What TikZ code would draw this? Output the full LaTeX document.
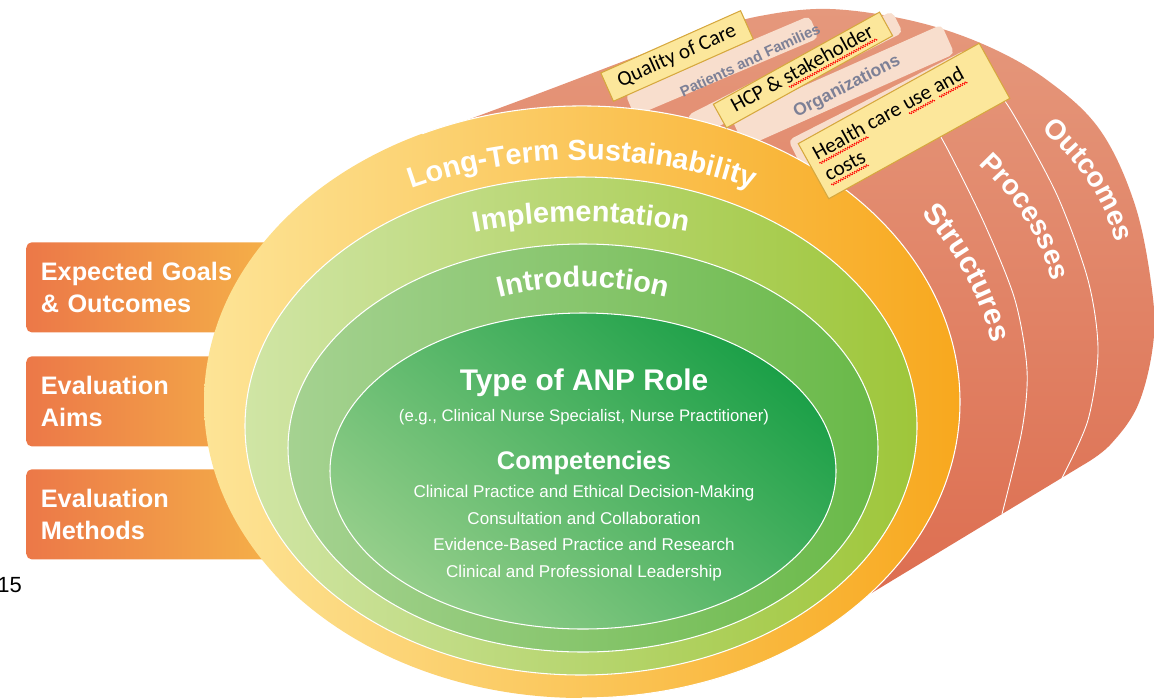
\documentclass[tikz,border=0pt]{standalone}
\usepackage{fontspec}
\setmainfont{Liberation Sans}
\newfontfamily\notefont{Carlito}
\usetikzlibrary{positioning}
\usetikzlibrary{calc}
\usetikzlibrary{decorations.text}

\definecolor{boxleft}{RGB}{236,120,72}
\definecolor{boxright}{RGB}{245,178,72}
\definecolor{salmontop}{RGB}{229,152,124}
\definecolor{salmonbot}{RGB}{221,110,80}
\definecolor{panelfill}{RGB}{248,222,205}
\definecolor{paneltext}{RGB}{125,128,150}
\definecolor{notefill}{RGB}{252,231,155}
\definecolor{noteedge}{RGB}{214,168,62}
\definecolor{sustleft}{RGB}{253,228,150}
\definecolor{sustmid}{RGB}{253,200,45}
\definecolor{sustright}{RGB}{248,168,30}
\definecolor{implleft}{RGB}{208,229,165}
\definecolor{implmid}{RGB}{170,207,85}
\definecolor{implright}{RGB}{158,198,58}
\definecolor{introleft}{RGB}{165,210,145}
\definecolor{introright}{RGB}{105,185,72}
\definecolor{roledark}{RGB}{28,160,72}
\definecolor{rolelight}{RGB}{148,206,138}

% red spell-check wave under a word
\newcommand\redwave[1]{\leavevmode\setbox0=\hbox{#1}\rlap{\color{red}\hbox to \wd0{\cleaders\hbox{\vrule width 0.75pt height -1.5pt depth 2.2pt\vrule width 0.75pt height -2.2pt depth 2.9pt}\hfill}}\box0\relax}

\begin{document}
\begin{tikzpicture}[x=0.02cm, y=-0.02cm,
    evalbox/.style={left color=boxleft, right color=boxright, rounded corners=3pt,
      minimum width=5.08cm, minimum height=1.8cm, text width=4.5cm, inner xsep=0.28cm,
      align=left, text=white, font=\fontsize{14.4}{18.5}\selectfont\bfseries},
    ring/.style={draw=white, line width=0.6pt},
    panel/.style={fill=panelfill, rounded corners=3pt, inner sep=0pt},
    celltext/.style={text=paneltext, inner sep=0pt},
    sticky/.style={fill=notefill, draw=noteedge, line width=0.6pt, inner sep=0pt,
      font=\notefont\fontsize{12}{14}\selectfont},
    divider/.style={draw=white, line width=0.5pt},
    arclabel/.style={decorate, decoration={text along path, text align=center,
      text color=white, text={#1}}}
  ]

  \useasboundingbox (0,0) rectangle (1155,697);

  % evaluation boxes on the left (behind the rings)
  \node[evalbox, anchor=north west] (goals) at (26,242) {Expected Goals\\\& Outcomes};
  \node[evalbox, anchor=north west] (aims) at (26,356) {Evaluation\\Aims};
  \node[evalbox, anchor=north west] (methods) at (26,469) {Evaluation\\Methods};

  % page number
  \node[anchor=west, inner sep=0pt, font=\fontsize{12.5}{12.5}\selectfont] (pagenum) at (-3,585) {15};

  % draw the cylinder body
  \shade[top color=salmontop, bottom color=salmonbot]
    plot[smooth, tension=0.6] coordinates {(440,130) (540,93) (640,55) (700,33) (760,16) (830,9)
      (913,21) (985,45) (1047,80) (1100,130) (1135,205) (1152,290) (1153,345) (1138,405)
      (1110,445) (1083,465)}
    -- (860,600) -- (580,420) -- cycle;

  % cells on the top of the cylinder
  \node[panel, minimum width=4.0cm, minimum height=0.48cm, rotate=23] (pfcell) at (722,66) {};
  \node[panel, minimum width=4.6cm, minimum height=0.48cm, rotate=27] (hcpcell) at (795,74) {};
  \node[panel, minimum width=4.6cm, minimum height=0.64cm, rotate=24] (orgcell) at (843,86) {};
  \node[panel, minimum width=4.0cm, minimum height=0.68cm, rotate=27] (costcell) at (885,110) {};
  \node[celltext, rotate=25, font=\fontsize{8.5}{8.5}\selectfont\bfseries] (pftext) at (750,60) {Patients and Families};
  \node[celltext, rotate=27, font=\fontsize{10}{10}\selectfont\bfseries] (orgtext) at (847,87) {Organizations};

  % draw the slab dividers
  \draw[divider] plot[smooth] coordinates {(925,110) (948,150) (985,225) (1015,300) (1027,370) (1022,430) (1002,514)};
  \draw[divider] plot[smooth] coordinates {(985,75) (1012,112) (1057,195) (1088,280) (1098,350) (1088,420) (1062,478)};

  % slab labels
  \path[arclabel={|\fontsize{17}{17}\selectfont\bfseries|Structures}]
    (918,209) .. controls (950,245) and (980,290) .. (993,349);
  \path[arclabel={|\fontsize{16}{16}\selectfont\bfseries|Processes}]
    (976,162) .. controls (1010,195) and (1040,230) .. (1053,285);
  \path[arclabel={|\fontsize{16}{16}\selectfont\bfseries|Outcomes}]
    (1040,128) .. controls (1075,160) and (1105,195) .. (1116,245);

  % draw the rings
  \shade[left color=sustleft, middle color=sustmid, right color=sustright]
    (582,402) ellipse [x radius=378, y radius=296];
  \draw[white, line width=0.6pt] ([shift={(582,402)}]-115:378 and 296)
    arc [start angle=-115, end angle=90, x radius=378, y radius=296];
  \draw[ring, left color=implleft, middle color=implmid, right color=implright]
    (581,426) ellipse [x radius=336, y radius=249];
  \draw[ring, left color=introleft, right color=introright]
    (583,448) ellipse [x radius=295, y radius=204];
  \draw[ring, top color=roledark, bottom color=rolelight, shading angle=-40]
    (583,471) ellipse [x radius=253, y radius=158];

  % ring labels
  \path[arclabel={|\fontsize{16.5}{16.5}\selectfont\bfseries|Long-Term Sustainability}]
    ([shift={(582,402)}]200:360 and 242) arc [start angle=200, end angle=340, x radius=360, y radius=242];
  \path[arclabel={|\fontsize{16.5}{16.5}\selectfont\bfseries|Implementation}]
    ([shift={(581,426)}]205:342 and 204) arc [start angle=205, end angle=335, x radius=342, y radius=204];
  \path[arclabel={|\fontsize{16.5}{16.5}\selectfont\bfseries|Introduction}]
    ([shift={(583,448)}]200:240 and 161) arc [start angle=200, end angle=340, x radius=240, y radius=161];

  % inner texts
  \node[text=white, font=\fontsize{17}{17}\selectfont\bfseries] (role) at (584,383) {Type of ANP Role};
  \node[text=white, font=\fontsize{9.5}{9.5}\selectfont] (roleeg) at (584,417)
    {(e.g., Clinical Nurse Specialist, Nurse Practitioner)};
  \node[text=white, font=\fontsize{14.5}{14.5}\selectfont\bfseries] (comp) at (584,463) {Competencies};
  \node[text=white, align=center, font=\fontsize{9.7}{15.2}\selectfont] (complist) at (584,533)
    {Clinical Practice and Ethical Decision-Making\\Consultation and Collaboration\\
     Evidence-Based Practice and Research\\Clinical and Professional Leadership};

  % sticky notes
  \node[sticky, minimum width=3.06cm, minimum height=0.62cm, rotate=24] (quality) at (677,56) {Quality of Care};
  \node[sticky, minimum width=3.8cm, minimum height=0.54cm, rotate=29] (hcp) at (803,70)
    {HCP \& \redwave{stakeholder}};
  \node[sticky, minimum width=4.14cm, minimum height=1.26cm, rotate=29, text width=3.8cm, align=left] (costs)
    at (904,121) {\spaceskip=0pt\xspaceskip=0pt\relax
      \redwave{Health} care \redwave{use} \redwave{and}\\\redwave{costs}};

\end{tikzpicture}
\end{document}
